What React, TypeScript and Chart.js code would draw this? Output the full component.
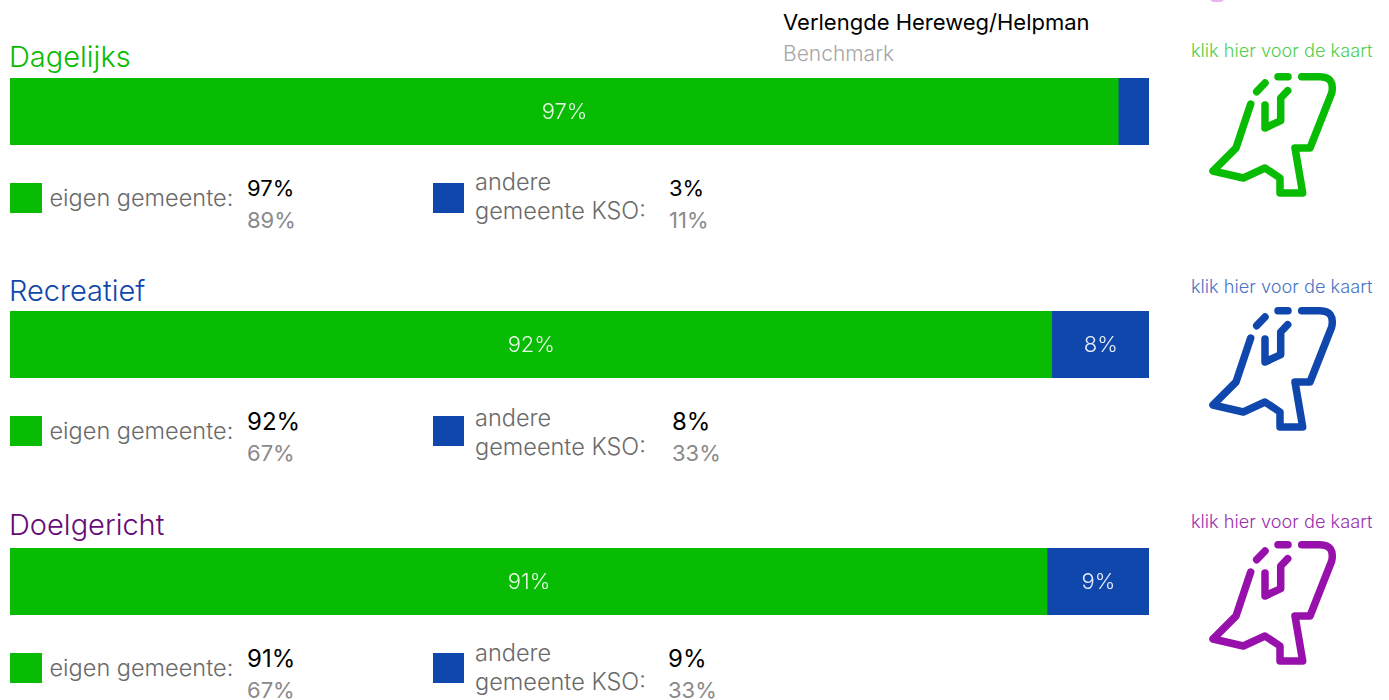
import React, { useEffect, useRef } from "react";
import { Chart, registerables } from "chart.js";

Chart.register(...registerables);

const FONT = "Inter, 'Open Sans', sans-serif";

const titles = ["Dagelijks", "Recreatief", "Doelgericht"];
const titleColors = ["#08bb03", "#0f47ad", "#660a78"];
const linkColors = ["#4fcf4c", "#4a74c4", "#9a2fae"];
const iconColors = ["#08bb03", "#0f47ad", "#9810ab"];
const ownValues = [97.3, 91.45, 91.05];
const otherValues = [2.7, 8.55, 8.95];
const ownPercent = [97, 92, 91];
const otherPercent = [3, 8, 9];
const ownBenchmark = [89, 67, 67];
const otherBenchmark = [11, 33, 33];
const ownLabel = "eigen gemeente";
const otherLabel = "gemeente KSO";
const GREEN = "#08bb03";
const BLUE = "#0f47ad";

const barTops = [78, 311, 548];
const iconOffsets = [0, 234, 468];
const linkTops = [35, 271, 506];
const titleTops = [41, 275, 509];
const otherValueLeft = [669, 672, 668];
const currentSize = [22, 24, 24];
const currentShift = [0, 1, 1];
const otherTextShift = [0, 3, 1];

const valueLabelPlugin = {
  id: "valueLabels",
  afterDatasetsDraw(chart: any) {
    const { ctx } = chart;
    const texts = chart.options.plugins.valueLabels.texts;
    chart.data.datasets.forEach((ds: any, i: number) => {
      const bar = chart.getDatasetMeta(i).data[0];
      if (ds.data[0] < 5) return;
      ctx.save();
      ctx.font = `300 22px ${FONT}`;
      ctx.fillStyle = "rgba(255,255,255,0.9)";
      ctx.textAlign = "center";
      ctx.textBaseline = "middle";
      ctx.fillText(`${texts[i]}%`, (bar.x + bar.base) / 2 + 0.5, bar.y + 1);
      ctx.restore();
    });
  },
};

function Bar({ index }: { index: number }) {
  const ref = useRef<HTMLCanvasElement>(null);
  useEffect(() => {
    const chart = new Chart(ref.current!, {
      type: "bar",
      data: {
        labels: [titles[index]],
        datasets: [
          { label: ownLabel, data: [ownValues[index]], backgroundColor: GREEN, barPercentage: 1, categoryPercentage: 1 },
          { label: otherLabel, data: [otherValues[index]], backgroundColor: BLUE, barPercentage: 1, categoryPercentage: 1 },
        ],
      },
      options: {
        indexAxis: "y",
        animation: false,
        responsive: false,
        maintainAspectRatio: false,
        layout: { padding: 0 },
        plugins: {
          legend: { display: false },
          tooltip: { enabled: false },
          valueLabels: { texts: [ownPercent[index], otherPercent[index]] },
        },
        scales: {
          x: { stacked: true, min: 0, max: 100, display: false },
          y: { stacked: true, display: false },
        },
      },
      plugins: [valueLabelPlugin],
    } as any);
    return () => chart.destroy();
  }, [index]);
  return (
    <canvas
      ref={ref}
      width={1139}
      height={67}
      style={{ position: "absolute", left: 10, top: barTops[index], width: 1139, height: 67 }}
    />
  );
}

function T({ x, y, size, color, weight = 300, children }: any) {
  return (
    <div
      style={{
        position: "absolute",
        left: x,
        top: y,
        fontSize: size,
        lineHeight: "30px",
        color,
        fontWeight: weight,
        whiteSpace: "nowrap",
      }}
    >
      {children}
    </div>
  );
}

function Icon({ dy, color }: { dy: number; color: string }) {
  return (
    <svg
      width={140}
      height={140}
      viewBox="1205 70 140 140"
      style={{ position: "absolute", left: 1205, top: 70 + dy }}
      fill="none"
      stroke={color}
      strokeWidth={7.5}
      strokeLinecap="round"
      strokeLinejoin="round"
    >
      <path d="M1250.7 104 L1236 148 L1213 171 L1243.3 178 L1265 168 L1280 178 L1280 193 L1302.7 193 L1295 148 L1310 148 L1331.7 93 Q1335 77 1320 76.7 L1301.7 76.7" />
      <path d="M1265 105 L1265 128 L1280.7 120.7 L1280.7 98 L1287.7 90.7" />
      <path d="M1256.7 91.7 L1265 83" />
      <path d="M1278 76.7 L1288 76.7" />
    </svg>
  );
}

function Section({ index }: { index: number }) {
  const top = barTops[index];
  const shift = otherTextShift[index];
  const cur = currentShift[index];
  return (
    <>
      <T x={9} y={titleTops[index] + 1} size={29} color={titleColors[index]}>{titles[index]}</T>
      <Bar index={index} />
      <div style={{ position: "absolute", left: 10, top: top + 105, width: 32, height: 30, background: GREEN }} />
      <T x={49.5} y={top + 105} size={23.5} color="#6a6a6a">{ownLabel}:</T>
      <T x={247} y={top + 95 + cur} size={currentSize[index]} color="#000" weight={400}>{ownPercent[index]}%</T>
      <T x={247} y={top + 127} size={22} color="#8a8a8a" weight={400}>{ownBenchmark[index]}%</T>
      <div style={{ position: "absolute", left: 433, top: top + 105, width: 31, height: 30, background: BLUE }} />
      <T x={475} y={top + 89 + shift} size={23.5} color="#6a6a6a">andere</T>
      <T x={475} y={top + 118 + shift} size={23.5} color="#6a6a6a">{otherLabel}:</T>
      <T x={otherValueLeft[index]} y={top + 95 + cur} size={currentSize[index]} color="#000" weight={400}>{otherPercent[index]}%</T>
      <T x={otherValueLeft[index]} y={top + 127} size={22} color="#8a8a8a" weight={400}>{otherBenchmark[index]}%</T>
      <T x={1191} y={linkTops[index]} size={18.2} color={linkColors[index]}>klik hier voor de kaart</T>
      <Icon dy={iconOffsets[index]} color={iconColors[index]} />
    </>
  );
}

export default function App() {
  return (
    <div style={{ position: "absolute", left: 0, top: 0, width: 1389, height: 700, overflow: "hidden", background: "#fff", fontFamily: FONT }}>
      <div style={{ position: "absolute", left: 1210, top: -6, width: 14, height: 8, borderRadius: 7, background: "#e6b3ea" }} />
      <T x={783} y={7} size={22} color="#000" weight={400}>Verlengde Hereweg/Helpman</T>
      <T x={783} y={39} size={21} color="#a6a6a6">Benchmark</T>
      {titles.map((_, i) => <Section key={i} index={i} />)}
    </div>
  );
}
